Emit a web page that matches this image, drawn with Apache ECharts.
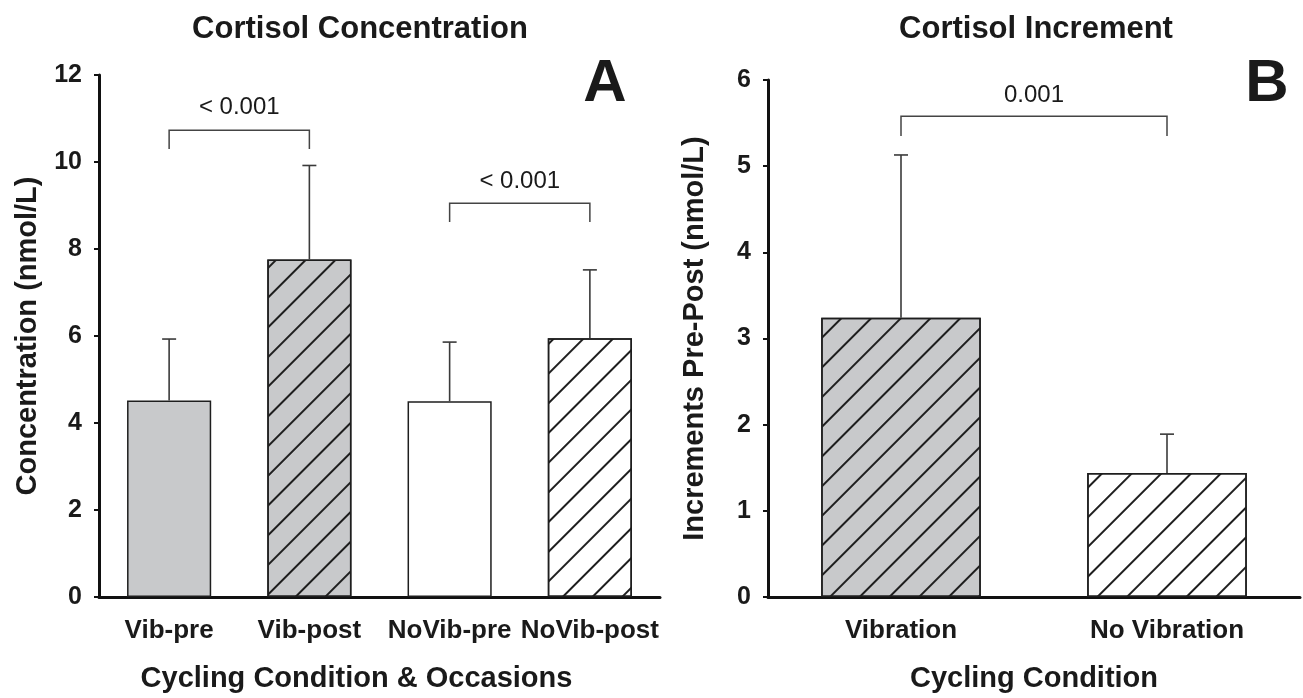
<!DOCTYPE html>
<html>
<head>
<meta charset="utf-8">
<script src="https://cdn.jsdelivr.net/npm/echarts@6/dist/echarts.min.js"></script>
<style>
html,body{margin:0;padding:0;background:#fff;}
#chart{width:1303px;height:698px;}
</style>
</head>
<body>
<div id="chart"></div>
<script>
// ---- data ----
var categoriesA = ['Vib-pre', 'Vib-post', 'NoVib-pre', 'NoVib-post'];
var meanA = [4.52, 7.76, 4.50, 5.95];
var errTopA = [5.93, 9.92, 5.86, 7.52];
var gridTicksA = [0, 2, 4, 6, 8, 10, 12];

var categoriesB = ['Vibration', 'No Vibration'];
var meanB = [3.24, 1.44];
var errTopB = [5.13, 1.89];
var gridTicksB = [0, 1, 2, 3, 4, 5, 6];

// brackets: [fromIndex, toIndex, topValue, bottomValue, labelValue]
var bracketsA = [[0, 1, 10.73, 10.30, 11.25], [2, 3, 9.05, 8.62, 9.55]];
var bracketLabelsA = ['< 0.001', '< 0.001'];
var bracketsB = [[0, 1, 5.58, 5.35, 5.82]];
var bracketLabelsB = ['0.001'];

// fill / hatch flags per bar
var grayA = [true, true, false, false];
var hatchA = [false, true, false, true];
var grayB = [true, false];
var hatchB = [true, true];

var FONT = "'Liberation Sans', Arial, Helvetica, sans-serif";
var GRAY = '#c8c9cb';
var TXT = '#1a1a1a';

function hatchDecal() {
  return {
    symbol: 'rect',
    symbolSize: 1,
    dashArrayX: [1, 0],
    dashArrayY: [1.6, 18.4],
    rotation: -Math.PI / 4,
    color: '#1e1e1e'
  };
}

function barData(means, gray, hatch) {
  return means.map(function (v, i) {
    var st = {
      color: gray[i] ? GRAY : '#ffffff',
      borderColor: '#1e1e1e',
      borderWidth: 1.5
    };
    if (hatch[i]) st.decal = hatchDecal();
    return { value: v, itemStyle: st };
  });
}

function errData(means, tops) {
  return means.map(function (v, i) { return [i, v, tops[i]]; });
}

function renderErr(params, api) {
  var x = api.value(0), m = api.value(1), t = api.value(2);
  var p0 = api.coord([x, m]);
  var p1 = api.coord([x, t]);
  var st = { stroke: '#3a3a3a', lineWidth: 1.6 };
  return {
    type: 'group',
    children: [
      { type: 'line', shape: { x1: p0[0], y1: p0[1], x2: p1[0], y2: p1[1] }, style: st },
      { type: 'line', shape: { x1: p1[0] - 7, y1: p1[1], x2: p1[0] + 7, y2: p1[1] }, style: st }
    ]
  };
}

function makeBracketRenderer(labels) {
  return function (params, api) {
    var a = api.value(0), b = api.value(1), top = api.value(2), bot = api.value(3), ly = api.value(4);
    var pA0 = api.coord([a, bot]), pA1 = api.coord([a, top]);
    var pB1 = api.coord([b, top]), pB0 = api.coord([b, bot]);
    var pl = api.coord([(a + b) / 2, ly]);
    return {
      type: 'group',
      children: [
        { type: 'polyline', shape: { points: [pA0, pA1, pB1, pB0] },
          style: { stroke: '#444', lineWidth: 1.5, fill: null } },
        { type: 'text', x: (pA1[0] + pB1[0]) / 2, y: pl[1],
          style: { text: labels[params.dataIndex], textAlign: 'center', textVerticalAlign: 'middle',
                   font: '24px ' + FONT, fill: TXT } }
      ]
    };
  };
}

var axisLine = { show: true, lineStyle: { color: '#111', width: 3 } };

var option = {
  backgroundColor: '#fff',
  animation: false,
  grid: [
    { left: 99, top: 75, width: 561, height: 530 },
    { left: 768, top: 80, width: 532, height: 527 }
  ],
  xAxis: [
    { type: 'category', gridIndex: 0, data: categoriesA, axisLine: axisLine,
      axisTick: { show: false },
      axisLabel: { color: TXT, fontFamily: FONT, fontWeight: 'bold', fontSize: 26, margin: 21, interval: 0 },
      name: 'Cycling Condition & Occasions', nameLocation: 'middle', nameGap: 67,
      nameTextStyle: { color: TXT, fontFamily: FONT, fontWeight: 'bold', fontSize: 29, padding: [0, 46, 0, 0] } },
    { type: 'category', gridIndex: 1, data: categoriesB, axisLine: axisLine,
      axisTick: { show: false },
      axisLabel: { color: TXT, fontFamily: FONT, fontWeight: 'bold', fontSize: 26, margin: 21, interval: 0 },
      name: 'Cycling Condition', nameLocation: 'middle', nameGap: 67,
      nameTextStyle: { color: TXT, fontFamily: FONT, fontWeight: 'bold', fontSize: 29 } }
  ],
  yAxis: [
    { type: 'value', gridIndex: 0, min: gridTicksA[0], max: gridTicksA[gridTicksA.length - 1], interval: 2,
      axisLine: axisLine, splitLine: { show: false },
      axisTick: { show: true, length: 5, lineStyle: { color: '#111', width: 2 } },
      axisLabel: { color: TXT, fontFamily: FONT, fontWeight: 'bold', fontSize: 25, margin: 17 },
      name: 'Concentration (nmol/L)', nameLocation: 'middle', nameGap: 57, nameRotate: 90,
      nameTextStyle: { color: TXT, fontFamily: FONT, fontWeight: 'bold', fontSize: 29 } },
    { type: 'value', gridIndex: 1, min: gridTicksB[0], max: gridTicksB[gridTicksB.length - 1], interval: 1,
      axisLine: axisLine, splitLine: { show: false },
      axisTick: { show: true, length: 5, lineStyle: { color: '#111', width: 2 } },
      axisLabel: { color: TXT, fontFamily: FONT, fontWeight: 'bold', fontSize: 25, margin: 17 },
      name: 'Increments Pre-Post (nmol/L)', nameLocation: 'middle', nameGap: 59, nameRotate: 90,
      nameTextStyle: { color: TXT, fontFamily: FONT, fontWeight: 'bold', fontSize: 29 } }
  ],
  series: [
    { type: 'bar', xAxisIndex: 0, yAxisIndex: 0, barWidth: '60%', data: barData(meanA, grayA, hatchA), z: 2 },
    { type: 'bar', xAxisIndex: 1, yAxisIndex: 1, barWidth: '60%', data: barData(meanB, grayB, hatchB), z: 2 },
    { type: 'custom', xAxisIndex: 0, yAxisIndex: 0, data: errData(meanA, errTopA), renderItem: renderErr, z: 3 },
    { type: 'custom', xAxisIndex: 1, yAxisIndex: 1, data: errData(meanB, errTopB), renderItem: renderErr, z: 3 },
    { type: 'custom', xAxisIndex: 0, yAxisIndex: 0, data: bracketsA, renderItem: makeBracketRenderer(bracketLabelsA), z: 3 },
    { type: 'custom', xAxisIndex: 1, yAxisIndex: 1, data: bracketsB, renderItem: makeBracketRenderer(bracketLabelsB), z: 3 }
  ],
  graphic: [
    { type: 'text', x: 360, y: 29, style: { text: 'Cortisol Concentration', textAlign: 'center', textVerticalAlign: 'middle', font: 'bold 31px ' + FONT, fill: TXT } },
    { type: 'text', x: 1036, y: 29, style: { text: 'Cortisol Increment', textAlign: 'center', textVerticalAlign: 'middle', font: 'bold 31px ' + FONT, fill: TXT } },
    { type: 'text', x: 605, y: 84, style: { text: 'A', textAlign: 'center', textVerticalAlign: 'middle', font: 'bold 60px ' + FONT, fill: TXT } },
    { type: 'text', x: 1267, y: 84, style: { text: 'B', textAlign: 'center', textVerticalAlign: 'middle', font: 'bold 60px ' + FONT, fill: TXT } }
  ]
};

var chart = echarts.init(document.getElementById('chart'), null, { renderer: 'canvas' });
chart.setOption(option);
</script>
</body>
</html>
